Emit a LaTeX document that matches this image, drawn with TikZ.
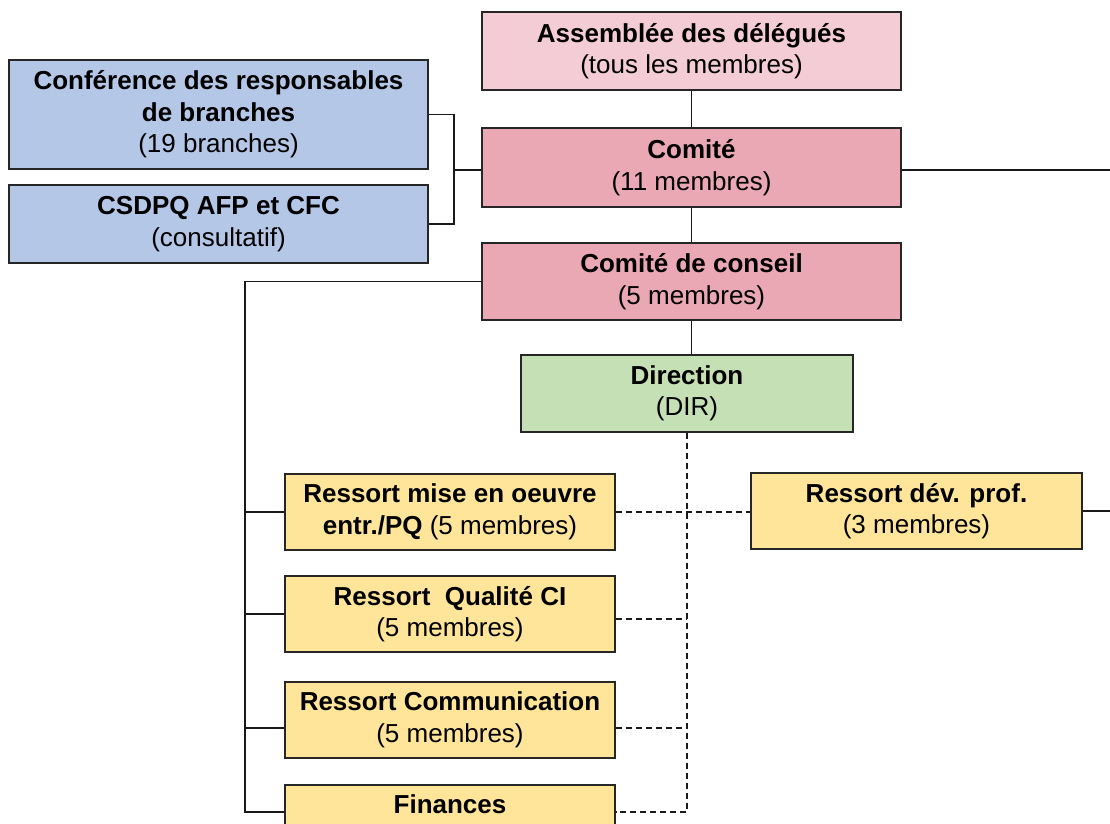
\documentclass[tikz,border=0pt]{standalone}
\usepackage{fontspec}
\setmainfont{Liberation Sans}
\definecolor{pinkL}{HTML}{F4CCD5}
\definecolor{pinkD}{HTML}{EAA8B4}
\definecolor{blueB}{HTML}{B4C7E7}
\definecolor{greenB}{HTML}{C5E0B4}
\definecolor{yellowB}{HTML}{FFE599}
\begin{document}
\begin{tikzpicture}[x=1pt,y=-1pt,
  box/.style={draw=black!85, line width=1.6pt, align=center, inner sep=0pt,
    font=\fontsize{26}{31.5}\selectfont},
  link/.style={line width=1.4pt, draw=black!90},
  dlink/.style={line width=1.4pt, draw=black!90, dash pattern=on 6pt off 4pt}]
\clip (0,0) rectangle (1110,823);
\useasboundingbox (0,0) rectangle (1110,823);

\node[box, fill=pinkL, minimum width=419pt, minimum height=78pt] (asm) at (691.5,51)
  {\textbf{Assemblée des délégués}\\(tous les membres)};
\node[box, fill=blueB, minimum width=419pt, minimum height=109pt] (conf) at (218.5,114.5)
  {\textbf{Conférence des responsables}\\\textbf{de branches}\\(19 branches)};
\node[box, fill=blueB, minimum width=419pt, minimum height=78pt] (csd) at (218.5,224)
  {\textbf{CSDPQ AFP et CFC}\\(consultatif)};
\node[box, fill=pinkD, minimum width=419pt, minimum height=79pt] (com) at (691.5,167.5)
  {\textbf{Comité}\\(11 membres)};
\node[box, fill=pinkD, minimum width=419pt, minimum height=77pt] (cc) at (691.5,281.5)
  {\textbf{Comité de conseil}\\(5 membres)};
\node[box, fill=greenB, minimum width=332pt, minimum height=77pt] (dir) at (687,393.5)
  {\textbf{Direction}\\(DIR)};
\node[box, fill=yellowB, minimum width=330pt, minimum height=76pt] (r1) at (450,512)
  {\textbf{Ressort mise en oeuvre}\\\textbf{entr./PQ} (5 membres)};
\node[box, fill=yellowB, minimum width=331pt, minimum height=76pt] (dev) at (916.5,511)
  {\textbf{Ressort dév. prof.}\\(3 membres)};
\node[box, fill=yellowB, minimum width=330pt, minimum height=76pt] (r2) at (450,614)
  {\textbf{Ressort~~Qualité CI}\\(5 membres)};
\node[box, fill=yellowB, minimum width=330pt, minimum height=76pt] (r3) at (450,720)
  {\textbf{Ressort Communication}\\(5 membres)};
\node[box, fill=yellowB, minimum width=330pt, minimum height=76pt, text depth=38pt] (r4) at (450,823)
  {\textbf{Finances}};

% coordinates
\coordinate (brk) at (454,170);
\coordinate (spine) at (245,281.5);
\coordinate (rE1) at (1110,170);
\coordinate (rE2) at (1110,511);
\coordinate (y2) at (0,614);
\coordinate (y3) at (0,728);
\coordinate (y4) at (0,812);
\coordinate (dy2) at (0,619);

% solid connectors
\draw[link] (asm.south) -- (com.north);
\draw[link] (com.south) -- (cc.north);
\draw[link] (cc.south) -- (cc.south |- dir.north);
\draw[link] (conf.east) -| (brk) |- (csd.east);
\draw[link] (brk) -- (com.west |- brk);
\draw[link] (com.east |- rE1) -- (rE1);
\draw[link] (dev.east) -- (rE2);
\draw[link] (cc.west) -- (spine) -- (spine |- y4) -- (r4.west |- y4);
\draw[link] (spine |- r1.west) -- (r1.west);
\draw[link] (spine |- y2) -- (r2.west |- y2);
\draw[link] (spine |- y3) -- (r3.west |- y3);

% dashed connectors
\draw[dlink] (dir.south) -- (dir.south |- y4) -- (r4.east |- y4);
\draw[dlink] (r1.east) -- (dev.west |- r1.east);
\draw[dlink] (r2.east |- dy2) -- (dir.south |- dy2);
\draw[dlink] (r3.east |- y3) -- (dir.south |- y3);
\end{tikzpicture}
\end{document}
